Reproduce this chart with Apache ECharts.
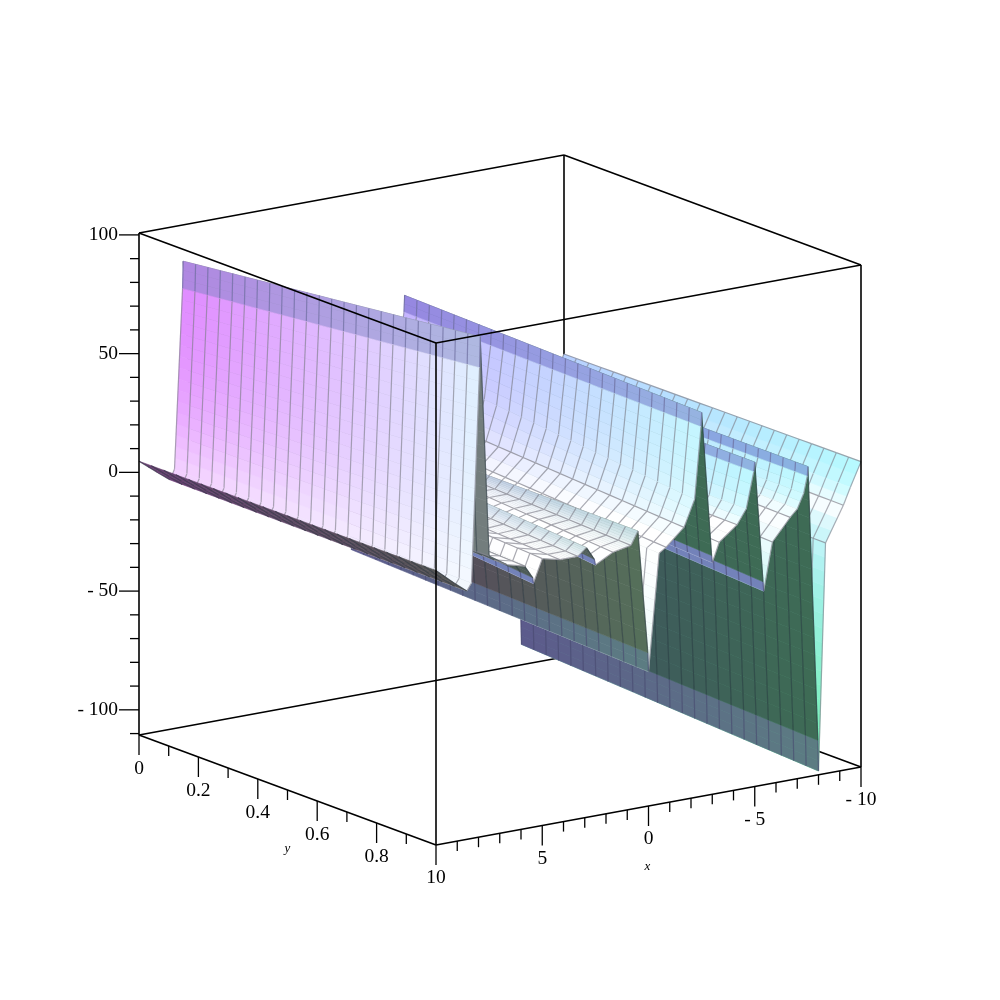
<!DOCTYPE html>
<html><head><meta charset="utf-8">
<style>html,body{margin:0;padding:0;background:#fff}#c{width:1000px;height:1000px}</style>
<script src="https://cdn.jsdelivr.net/npm/echarts@6/dist/echarts.min.js"></script>
</head><body><div id="c"></div>
<script>
// surface columns along x, and the surface height read at the y=0 and y=1 edges
const xColumns = [10,9.17,8.55,8.33,7.95,7.92,7.5,6.67,5.83,5.45,5.42,5,4.17,3.33,2.92,2.55,2.5,1.67,0.83,0.5,0.03,0,-0.5,-0.83,-1.67,-2.17,-2.47,-2.5,-2.97,-3,-3.33,-4.17,-4.6,-4.95,-5,-5.39,-5.42,-5.83,-6.67,-7,-7.3,-7.47,-7.5,-7.97,-8,-8.33,-9.17,-9.5,-10];
const zAtY0    = [4.7,-1.2,-5.5,-1.4,74,85.5,5,3,5,7,4,9,6,8,12,12.5,10,8,6,6,-42,-49,3,5,12,28,47,54,-3,-6,2,2,7,22,26,-17,-21,-4,3,5,9,16,20,-91,-102,-13,2,8,17];
const zAtY1    = [5,-1.5,-6,-3,87,100,7,2,0,-5.5,-8,1.8,0,0,3,-2.5,-5,-1,0.5,6,-46,-54,-5,-3,4,15,45,51,-10,-13,-5,1,7,22,26,-25,-29,-9,0,3,9,16,20,-96,-109,-13.5,1,8,18];
const yRows = [0,0.0417,0.0833,0.125,0.1667,0.2083,0.25,0.2917,0.3333,0.375,0.4167,0.4583,0.5,0.5417,0.5833,0.625,0.6667,0.7083,0.75,0.7917,0.8333,0.875,0.9167,0.9583,1];
const meshX = [7.5,6.67,5.83,5,4.17,3.33,1.67,0.83,-0.83,-1.67,-3.33,-4.17,-5.83,-6.67,-8.33,-9.17,-10];
const ridgeX = [0.83,0.5,3.33,2.92];
const ridgeTint = [0.2,0.7,0.12,0.55];

const xTicks = [10,9,8,7,6,5,4,3,2,1,0,-1,-2,-3,-4,-5,-6,-7,-8,-9,-10];
const yTicks = [0,0.1,0.2,0.3,0.4,0.5,0.6,0.7,0.8,0.9];
const zTicks = [100,90,80,70,60,50,40,30,20,10,0,-10,-20,-30,-40,-50,-60,-70,-80,-90,-100,-110];
const xLabels = [[10,'10'],[5,'5'],[0,'0'],[-5,'- 5'],[-10,'- 10']];
const yLabels = [[0,'0'],[0.2,'0.2'],[0.4,'0.4'],[0.6,'0.6'],[0.8,'0.8']];
const zLabels = [[100,'100'],[50,'50'],[0,'0'],[-50,'- 50'],[-100,'- 100']];
const xMin=-10,xMax=10,yMin=0,yMax=1,zMin=-110.6,zMax=100.8;

function project(x,y,z){
  const u=(xMax-x)/(xMax-xMin), v=(yMax-y)/(yMax-yMin), w=(z-zMin)/(zMax-zMin);
  return [436+425*u-297*v, 845-78*u-110*v-502*w];
}
const clamp=(a,l,h)=>Math.max(l,Math.min(h,a));
const lerp=(a,b,t)=>a+(b-a)*t;
const rgb=(r,g,b)=>`rgb(${Math.round(clamp(r,0,255))},${Math.round(clamp(g,0,255))},${Math.round(clamp(b,0,255))})`;
function hue(x,y,z){
  const t=(x+10)/20;
  let r=170+60*t, g=lerp(200-70*t,250-10*t,y), b=255;
  if(z<0){ r*=1+z/300; g=Math.min(g,240); b=255+0.75*z; }
  return [r,g,b];
}
function whiten(x,y,z){
  if(x>7.6) return 0.6*Math.pow(1-clamp(z,0,100)/100,3);
  if(z>=0){ const Z=x<-4?8:(x<0?16:15+15*y); return Math.exp(-z/Z); }
  return Math.exp(z/(x<-8?12:(x<-4?33:220)));
}
function topColor(x,y,z,tint){
  const h=hue(x,y,z), m=whiten(x,y,z);
  let c=[lerp(h[0],255,m),lerp(h[1],255,m),lerp(h[2],255,m)];
  if(tint>0){
    const k=[170,lerp(175,205,y),lerp(222,210,y)];
    c=[lerp(c[0],k[0],tint),lerp(c[1],k[1],tint),lerp(c[2],k[2],tint)];
  }
  return rgb(c[0],c[1],c[2]);
}
function underColor(x,y){
  const t=(x+10)/20;
  if(x>8.3) return rgb(lerp(105,85,y),lerp(65,85,y),lerp(115,85,y));
  if(t>0.8) return rgb(115,125,125);
  if(t>0.6) return rgb(78,92,88);
  return t>0.4 ? rgb(85,lerp(55,112,y),90) : rgb(62,lerp(78,108,y),lerp(95,85,y));
}
function tintAt(x){
  const k=ridgeX.findIndex(v=>Math.abs(v-x)<1e-6);
  return k<0?0:ridgeTint[k];
}
const zAt=(i,y)=>zAtY0[i]+(zAtY1[i]-zAtY0[i])*y;

const cells=[];
for(let i=xColumns.length-2;i>=0;i--) for(let j=0;j<yRows.length-1;j++) cells.push([i,j]);

function renderCell(params,api){
  const i=api.value(0), j=api.value(1);
  const xa=xColumns[i], xb=xColumns[i+1], ya=yRows[j], yb=yRows[j+1];
  const P=(f,y)=>{
    const p=project(lerp(xa,xb,f),y,lerp(zAt(i,y),zAt(i+1,y),f));
    return api.coord(p);
  };
  const A=P(0,ya),B=P(1,ya),D=P(0,yb),C=P(1,yb);
  const cross=((B[0]-A[0]+C[0]-D[0])*(D[1]-A[1]+C[1]-B[1])-(B[1]-A[1]+C[1]-D[1])*(D[0]-A[0]+C[0]-B[0]));
  const top=cross>0, band=Math.abs(xa-xb)<=0.051;
  const ym=(ya+yb)/2, dz=Math.abs(zAt(i,ym)-zAt(i+1,ym));
  const ta=tintAt(xa), tb=tintAt(xb);
  const n=(ta||tb)?6:clamp(Math.ceil(dz/5),1,16);
  const kids=[];
  for(let k=0;k<n;k++){
    const f0=k/n,f1=(k+1)/n,fm=(f0+f1)/2;
    const xm=lerp(xa,xb,fm), zm=lerp(zAt(i,ym),zAt(i+1,ym),fm);
    let fill;
    if(band){
      if(top){
        const h=hue(xb,ym,60), t=(xb+10)/20;
        fill=rgb(h[0]*0.78,135+(t>0.5?50:45)*ym,225);
      } else if(dz>6){
        fill=rgb(92,90+35*ym,140-10*ym);
      } else fill=rgb(115,130,185);
    } else if(top){
      fill=topColor(xm,ym,zm,lerp(ta,tb,fm));
    } else fill=underColor(xm,ym);
    kids.push({type:'polygon',shape:{points:[P(f0,ya),P(f1,ya),P(f1,yb),P(f0,yb)]},
      style:{fill,stroke:fill,lineWidth:0.6},silent:true});
  }
  const lineCol=top?(band?'rgba(110,110,160,0.7)':'rgba(125,125,135,0.62)'):(band?'rgba(70,70,110,0.6)':'rgba(35,50,60,0.5)');
  const row=y=>({type:'polyline',shape:{points:[P(0,y),P(1,y)]},style:{fill:'none',stroke:lineCol,lineWidth:1.2},silent:true});
  kids.push(row(ya));
  if(j===yRows.length-2) kids.push(row(yb));
  if(meshX.includes(xb)) kids.push({type:'line',shape:{x1:B[0],y1:B[1],x2:C[0],y2:C[1]},style:{stroke:'rgba(130,130,140,0.7)',lineWidth:1.2},silent:true});
  return {type:'group',children:kids};
}

// box edges: [x1,y1,z1,x2,y2,z2]
const backEdges=[
  [xMax,yMin,zMax,xMin,yMin,zMax],[xMin,yMin,zMax,xMin,yMax,zMax],
  [xMin,yMin,zMax,xMin,yMin,zMin],[xMax,yMin,zMin,xMin,yMin,zMin],[xMin,yMax,zMin,xMin,yMin,zMin]];
const frontEdges=[
  [xMax,yMin,zMax,xMax,yMin,zMin],[xMin,yMax,zMax,xMin,yMax,zMin],
  [xMax,yMax,zMax,xMax,yMin,zMax],[xMax,yMax,zMax,xMin,yMax,zMax],[xMax,yMax,zMax,xMax,yMax,zMin],
  [xMax,yMax,zMin,xMax,yMin,zMin],[xMax,yMax,zMin,xMin,yMax,zMin]];
function renderEdge(params,api){
  const a=api.coord(project(api.value(0),api.value(1),api.value(2)));
  const b=api.coord(project(api.value(3),api.value(4),api.value(5)));
  return {type:'line',shape:{x1:a[0],y1:a[1],x2:b[0],y2:b[1]},style:{stroke:'#000',lineWidth:1.6},silent:true};
}
// ticks: [x,y,z,dx,dy]
const tickData=[];
xTicks.forEach(v=>tickData.push([v,yMax,zMin,0,v%5===0?20:10]));
yTicks.forEach((v,k)=>tickData.push([xMax,v,zMin,0,k%2===0?20:10]));
zTicks.forEach(v=>tickData.push([xMax,yMin,v,v%50===0?-20:-9,0]));
function renderTick(params,api){
  const a=api.coord(project(api.value(0),api.value(1),api.value(2)));
  return {type:'line',shape:{x1:a[0],y1:a[1],x2:a[0]+api.value(3),y2:a[1]+api.value(4)},style:{stroke:'#000',lineWidth:1.3},silent:true};
}
const labelData=[];
xLabels.forEach(l=>labelData.push([l[0],yMax,zMin,0,33,l[1],'center']));
yLabels.forEach(l=>labelData.push([xMax,l[0],zMin,0,34,l[1],'center']));
zLabels.forEach(l=>labelData.push([xMax,yMin,l[0],-21,0,l[1],'right']));
function renderLabel(params,api){
  const d=labelData[params.dataIndex];
  const a=api.coord(project(d[0],d[1],d[2]));
  return {type:'text',style:{text:d[5],x:a[0]+d[3],y:a[1]+d[4],align:d[6],verticalAlign:'middle',font:'19.5px "Liberation Serif"',fill:'#000'},silent:true};
}
const titleData=[[0,yMax,zMin,-1,61,'x'],[xMax,0.5,zMin,0,59,'y']];
function renderTitle(params,api){
  const d=titleData[params.dataIndex];
  const a=api.coord(project(d[0],d[1],d[2]));
  return {type:'text',style:{text:d[5],x:a[0]+d[3],y:a[1]+d[4],align:'center',verticalAlign:'middle',font:'italic 13px "Liberation Serif"',fill:'#000'},silent:true};
}
const chart=echarts.init(document.getElementById('c'),null,{renderer:'canvas'});
const base={type:'custom',coordinateSystem:'cartesian2d',clip:false,animation:false,silent:true,progressive:0,encode:{x:-1,y:-1}};
chart.setOption({
  animation:false,backgroundColor:'#fff',tooltip:{show:false},
  grid:{left:0,right:0,top:0,bottom:0},
  xAxis:{type:'value',min:0,max:1000,show:false},
  yAxis:{type:'value',min:0,max:1000,inverse:true,show:false},
  series:[
    Object.assign({},base,{z:1,data:backEdges,renderItem:renderEdge}),
    Object.assign({},base,{z:2,data:cells,renderItem:renderCell}),
    Object.assign({},base,{z:3,data:frontEdges,renderItem:renderEdge}),
    Object.assign({},base,{z:3,data:tickData,renderItem:renderTick}),
    Object.assign({},base,{z:4,data:labelData.map((d,k)=>[k]),renderItem:renderLabel}),
    Object.assign({},base,{z:4,data:titleData.map((d,k)=>[k]),renderItem:renderTitle})
  ]
});
</script></body></html>
